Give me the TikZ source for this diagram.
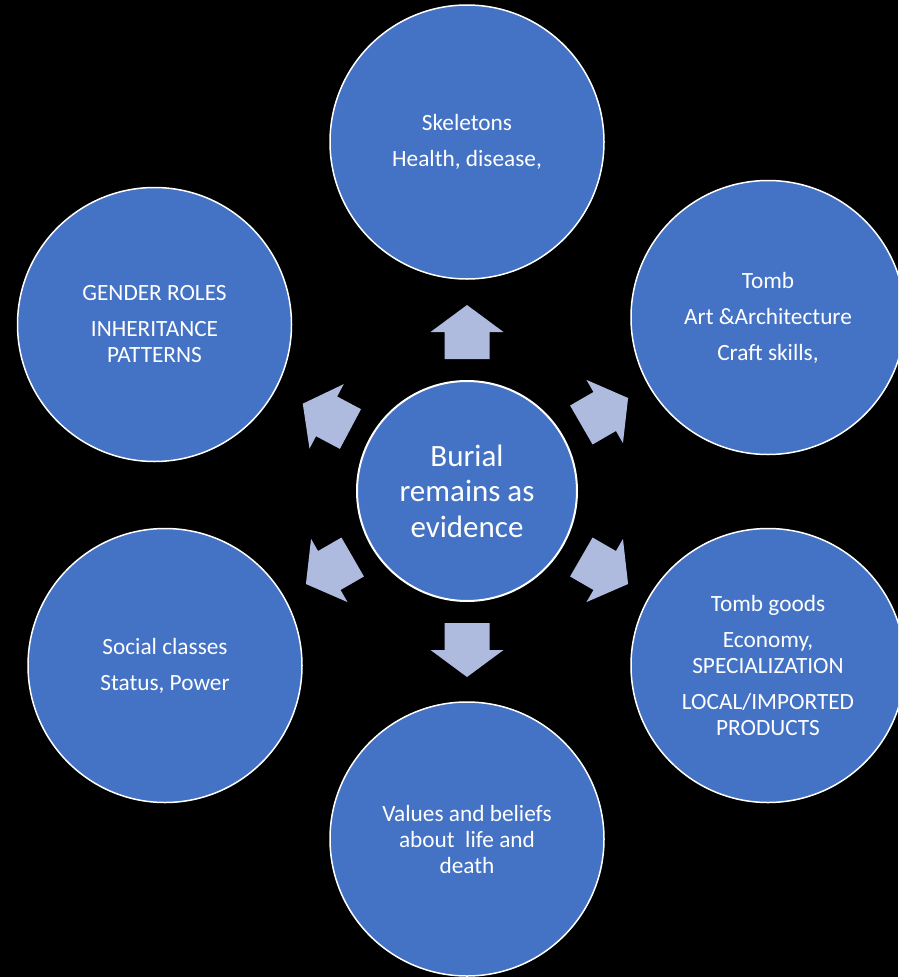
\documentclass[tikz,border=0pt]{standalone}
\usepackage{fontspec}
\setmainfont{Carlito}
\usepackage{xcolor}
\usetikzlibrary{calc}

\definecolor{ringblue}{RGB}{68,114,196}
\definecolor{arrowblue}{RGB}{174,187,222}

\tikzset{
  bubble/.style={circle,draw=white,line width=1.5pt,fill=ringblue,text=white,
    minimum size=274pt,inner sep=0pt,align=center,font=\fontsize{23.3}{26}\selectfont},
  hub/.style={circle,draw=white,line width=2pt,fill=ringblue,text=white,
    minimum size=220pt,inner sep=0pt,align=center,font=\fontsize{31}{35.5}\selectfont},
  blockarrow/.style={fill=arrowblue}
}

\begin{document}
\begin{tikzpicture}[x=1pt,y=1pt]
        \fill[black] (0,0) rectangle (898,-977);
        \clip (0,0) rectangle (898,-977);

        \node[hub] (burial) at (467,-491) {Burial\\remains as\\evidence};

        \foreach \a in {90,30,-30,-90,210,152}
            \fill[blockarrow,shift={(burial.center)},rotate=\a] (132,-22.5) -- (159,-22.5) -- (159,-36.5) -- (186,0) -- (159,36.5) -- (159,22.5) -- (132,22.5) -- cycle;

        \node[bubble] (skeletons) at (467,-142) {Skeletons\\[10pt]Health, disease,};
        \node[bubble] (tomb) at (768,-317.5) {Tomb\\[10pt]Art \&Architecture\\[10pt]Craft skills,};
        \node[bubble] (goods) at (768,-665.5) {Tomb goods\\[10pt]Economy,\\SPECIALIZATION\\[10pt]LOCAL/IMPORTED\\PRODUCTS};
        \node[bubble] (values) at (467,-839) {Values and beliefs\\about\ \ life and\\death};
        \node[bubble] (classes) at (165,-665.5) {Social classes\\[10pt]Status, Power};
        \node[bubble] (gender) at (154.5,-324.5) {GENDER ROLES\\[10pt]INHERITANCE\\PATTERNS};

    \end{tikzpicture}
\end{document}
